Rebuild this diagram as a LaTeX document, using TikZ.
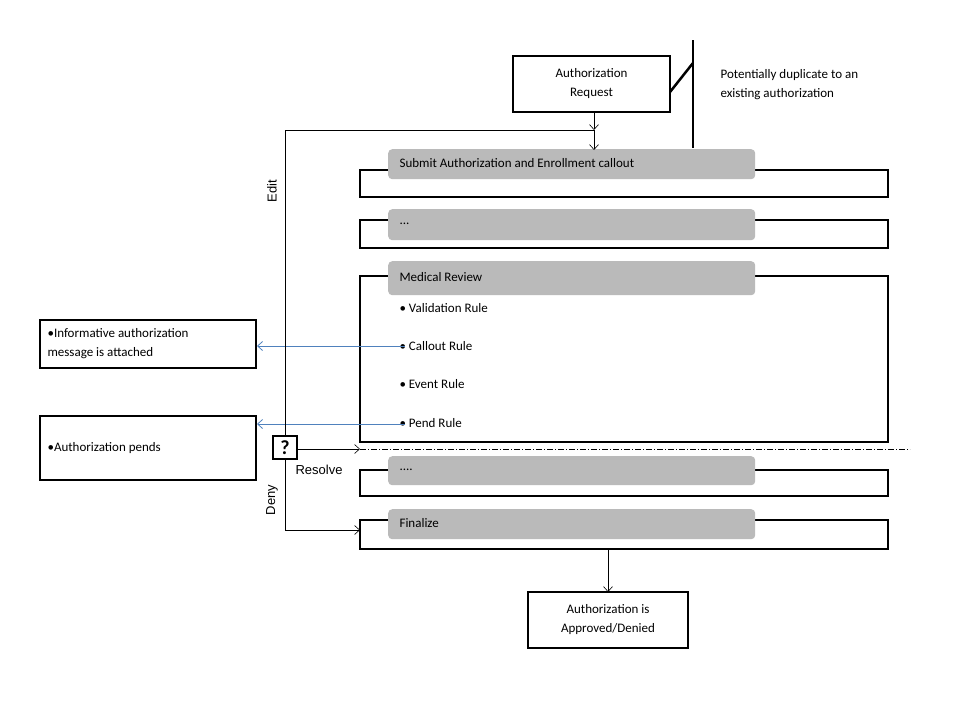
\documentclass[tikz,border=0pt]{standalone}
\usepackage{fontspec}
\setmainfont{Carlito}
\newfontfamily\arialf{Liberation Sans}
\usetikzlibrary{arrows.meta}
\begin{document}
\begin{tikzpicture}[x=1pt,y=-1pt,
  frame/.style={draw=black,line width=2.5pt},
  tab/.style={fill=black!27,rounded corners=4pt,draw=none},
  tabtxt/.style={anchor=west,font=\fontsize{13}{15}\selectfont},
  txt/.style={font=\fontsize{13}{19}\selectfont,align=center},
  arr/.style={-{Straight Barb[length=5pt,width=9pt]},line width=0.6pt},
  blue arr/.style={-{Straight Barb[length=5pt,width=9pt]},draw={rgb,255:red,79;green,129;blue,189},line width=0.8pt}]
\useasboundingbox (0,0) rectangle (960,720);
% top request
\draw[frame] (513,56) rectangle (670,112);
\node[txt] (req) at (591.5,84) {Authorization\\Request};
\draw[line width=2.5pt] (670,92) -- (693,63);
\draw[line width=2.5pt] (693,40) -- (693,148);
\node[txt,align=left,anchor=west] (dup) at (717,85) {Potentially duplicate to an\\existing authorization};
% boxes
\draw[frame] (360,170) rectangle (888,197);
\node[tab,minimum width=367pt,minimum height=30pt,anchor=north west] (t1) at (388,149) {};
\node[tabtxt] at (396,163) {Submit Authorization and Enrollment callout};
\draw[frame] (360,220) rectangle (888,248);
\node[tab,minimum width=367pt,minimum height=31pt,anchor=north west] (t2) at (388,209) {};
\node[tabtxt] at (396,224) {...};
\draw[frame] (360,276) rectangle (888,442);
\node[tab,minimum width=367pt,minimum height=34pt,anchor=north west] (t3) at (388,261) {};
\node[tabtxt] at (396,277) {Medical Review};
\node[tabtxt] (r1) at (396,308) {\textbullet\ Validation Rule};
\node[tabtxt] (r2) at (396,346) {\textbullet\ Callout Rule};
\node[tabtxt] (r3) at (396,384) {\textbullet\ Event Rule};
\node[tabtxt] (r4) at (396,423) {\textbullet\ Pend Rule};
\draw[frame] (360,470) rectangle (888,496);
\node[tab,minimum width=367pt,minimum height=29pt,anchor=north west] (t4) at (388,456) {};
\node[tabtxt] at (396,470) {....};
\draw[frame] (360,520) rectangle (888,549);
\node[tab,minimum width=367pt,minimum height=30pt,anchor=north west] (t5) at (388,509) {};
\node[tabtxt] at (396,523) {Finalize};
% left boxes
\draw[frame] (40,320) rectangle (256,368);
\node[txt,align=left,anchor=west,font=\fontsize{13}{19}\selectfont] (inf) at (44,344) {\textbullet Informative authorization\\message is attached};
\draw[frame] (40,416) rectangle (256,480);
\node[txt,anchor=west] (pend) at (44,448) {\textbullet Authorization pends};
\coordinate (lb1) at (257,346);
\coordinate (lb2) at (257,424);
\draw[blue arr] (405,346) -- (lb1);
\draw[blue arr] (405,424) -- (lb2);
% edit loop
\coordinate (top) at (594,150);
\draw[line width=0.6pt] (285,530) -- (285,130);
\draw[arr] (285,130) -- (594,130) -- (top);
\draw[arr] (594,112) -- (594,130);
\node[rotate=90,font=\arialf\fontsize{13}{15}\selectfont] (edit) at (272,191) {Edit};
% question
\draw[line width=2.5pt,fill=white] (273,436) rectangle (297,459);
\node[font=\bfseries\fontsize{20}{20}\selectfont] (q) at (285,448) {?};
\coordinate (res) at (360,449);
\draw[arr] (297,449) -- (res);
\draw[line width=0.5pt,dash pattern=on 6pt off 2pt on 1pt off 2pt] (res) -- (910,449);
\node[font=\arialf\fontsize{13}{15}\selectfont] (resolve) at (319,470) {Resolve};
\node[rotate=90,font=\arialf\fontsize{13}{15}\selectfont] (deny) at (272,500) {Deny};
\coordinate (fin) at (360,530);
\draw[arr] (285,530) -- (fin);
% bottom
\draw[frame] (528,592) rectangle (688,648);
\node[txt] (out) at (608,620) {Authorization is\\Approved/Denied};
\draw[arr] (608,549) -- (608,592);
\end{tikzpicture}
\end{document}
